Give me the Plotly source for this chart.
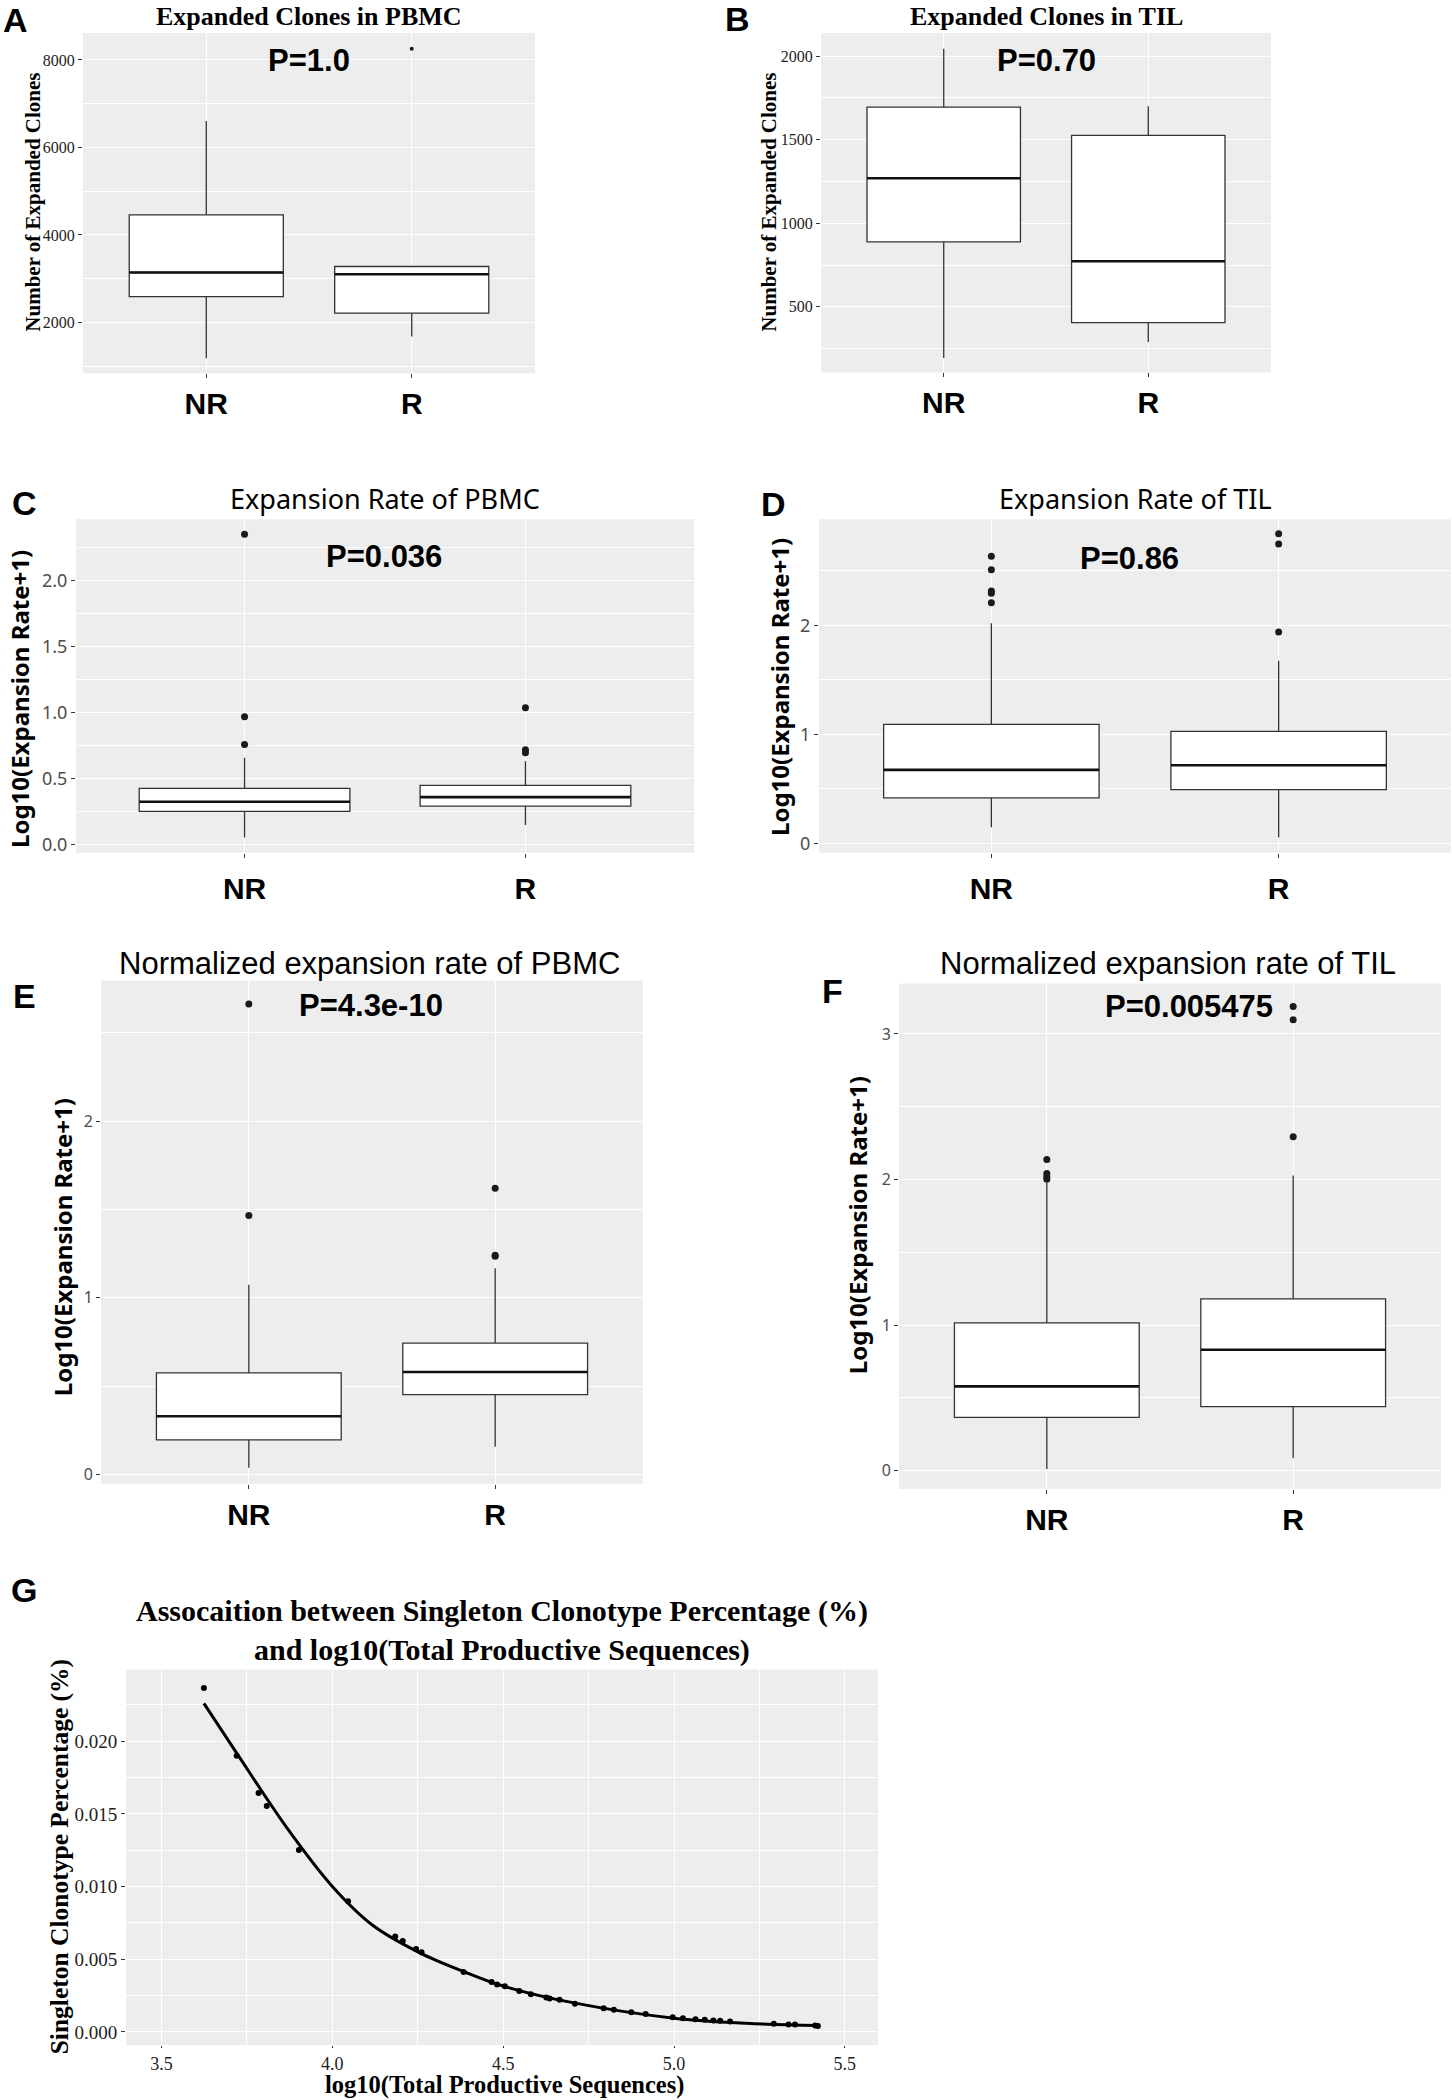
import plotly.graph_objects as go

W, H = 1452, 2100

CATS = ["NR", "R"]

# Panel A: Expanded Clones in PBMC
A_Q1 = [2593, 2214]
A_MED = [3142, 3103]
A_Q3 = [4461, 3279]
A_LO = [1184, 1679]
A_HI = [6602, 3279]
A_OUT_X = ["R"]
A_OUT_Y = [8255]

# Panel B: Expanded Clones in TIL
B_Q1 = [888, 405]
B_MED = [1269, 773]
B_Q3 = [1695, 1526]
B_LO = [194, 289]
B_HI = [2044, 1701]
B_OUT_X = []
B_OUT_Y = []

# Panel C: Expansion Rate of PBMC
C_Q1 = [0.252, 0.292]
C_MED = [0.325, 0.360]
C_Q3 = [0.426, 0.448]
C_LO = [0.055, 0.149]
C_HI = [0.657, 0.632]
C_OUT_X = ["NR", "NR", "NR", "R", "R", "R"]
C_OUT_Y = [0.758, 0.967, 2.348, 0.695, 0.718, 1.035]

# Panel D: Expansion Rate of TIL
D_Q1 = [0.418, 0.495]
D_MED = [0.675, 0.718]
D_Q3 = [1.093, 1.029]
D_LO = [0.150, 0.055]
D_HI = [2.021, 1.676]
D_OUT_X = ["NR", "NR", "NR", "NR", "NR", "R", "R", "R"]
D_OUT_Y = [2.208, 2.296, 2.315, 2.510, 2.635, 1.939, 2.748, 2.840]

# Panel E: Normalized expansion rate of PBMC
E_Q1 = [0.195, 0.451]
E_MED = [0.329, 0.579]
E_Q3 = [0.574, 0.743]
E_LO = [0.037, 0.156]
E_HI = [1.073, 1.166]
E_OUT_X = ["NR", "NR", "R", "R", "R"]
E_OUT_Y = [1.465, 2.663, 1.235, 1.240, 1.619]

# Panel F: Normalized expansion rate of TIL
F_Q1 = [0.365, 0.439]
F_MED = [0.578, 0.830]
F_Q3 = [1.014, 1.179]
F_LO = [0.010, 0.084]
F_HI = [1.975, 2.028]
F_OUT_X = ["NR", "NR", "NR", "NR", "R", "R", "R"]
F_OUT_Y = [2.002, 2.020, 2.041, 2.138, 2.293, 3.097, 3.189]

# Panel G: singleton percentage vs log10(total productive sequences)
G_X = [3.624, 3.720, 3.784, 3.808, 3.902, 4.046, 4.184, 4.206, 4.245, 4.261,
       4.384, 4.466, 4.482, 4.505, 4.547, 4.581, 4.626, 4.636, 4.665, 4.710,
       4.794, 4.824, 4.875, 4.917, 4.996, 5.026, 5.063, 5.090, 5.115, 5.135,
       5.164, 5.292, 5.335, 5.354, 5.413, 5.421]
G_Y = [0.02366, 0.01900, 0.01644, 0.01554, 0.01252, 0.00899, 0.00657, 0.00625, 0.00571, 0.00548,
       0.00413, 0.00344, 0.00327, 0.00314, 0.00281, 0.00260, 0.00237, 0.00230, 0.00221, 0.00195,
       0.00163, 0.00153, 0.00135, 0.00123, 0.00102, 0.00095, 0.00088, 0.00084, 0.00079, 0.00077,
       0.00072, 0.00056, 0.00051, 0.00051, 0.00044, 0.00042]
CURVE_X = [3.624, 3.720, 3.866, 4.000, 4.118, 4.253, 4.384, 4.500, 4.707, 5.000, 5.211, 5.421]
CURVE_Y = [0.0226, 0.01918, 0.01407, 0.01001, 0.00734, 0.00548, 0.00416, 0.00316, 0.00200, 0.00095, 0.00060, 0.00045]

SERIF = "Liberation Serif, Times New Roman, serif"
SANS = "Liberation Sans, Arial, sans-serif"
NOTO = "Noto Sans, Open Sans, sans-serif"
BG = "#EDEDED"
LINE = "#333333"

fig = go.Figure()


def dx(a, b):
    return [a / W, b / W]


def dy(top, bottom):
    return [1 - bottom / H, 1 - top / H]


def add_box_panel(i, q1, med, q3, lo, hi, ox, oy, msize):
    xa = "x" if i == 1 else f"x{i}"
    ya = "y" if i == 1 else f"y{i}"
    fig.add_trace(go.Box(
        x=CATS, q1=q1, median=med, q3=q3, lowerfence=lo, upperfence=hi,
        width=0.75, whiskerwidth=0, boxpoints=False,
        fillcolor="white", line=dict(color=LINE, width=1.3),
        hoverinfo="skip", xaxis=xa, yaxis=ya, showlegend=False))
    # thicker median line (ggplot fatten)
    fig.add_trace(go.Box(
        x=CATS, q1=med, median=med, q3=med, lowerfence=med, upperfence=med,
        width=0.75, whiskerwidth=0, boxpoints=False,
        fillcolor="rgba(0,0,0,0)", line=dict(color="#111111", width=2.6),
        hoverinfo="skip", xaxis=xa, yaxis=ya, showlegend=False))
    if len(oy):
        fig.add_trace(go.Scatter(
            x=ox, y=oy, mode="markers",
            marker=dict(color="#1a1a1a", size=msize),
            hoverinfo="skip", xaxis=xa, yaxis=ya, showlegend=False))


add_box_panel(1, A_Q1, A_MED, A_Q3, A_LO, A_HI, A_OUT_X, A_OUT_Y, 4)
add_box_panel(2, B_Q1, B_MED, B_Q3, B_LO, B_HI, B_OUT_X, B_OUT_Y, 6)
add_box_panel(3, C_Q1, C_MED, C_Q3, C_LO, C_HI, C_OUT_X, C_OUT_Y, 7)
add_box_panel(4, D_Q1, D_MED, D_Q3, D_LO, D_HI, D_OUT_X, D_OUT_Y, 7)
add_box_panel(5, E_Q1, E_MED, E_Q3, E_LO, E_HI, E_OUT_X, E_OUT_Y, 7)
add_box_panel(6, F_Q1, F_MED, F_Q3, F_LO, F_HI, F_OUT_X, F_OUT_Y, 7)

fig.add_trace(go.Scatter(x=CURVE_X, y=CURVE_Y, mode="lines", line=dict(color="black", width=3, shape="spline"),
                         hoverinfo="skip", xaxis="x7", yaxis="y7", showlegend=False))
fig.add_trace(go.Scatter(x=G_X, y=G_Y, mode="markers", marker=dict(color="black", size=6),
                         hoverinfo="skip", xaxis="x7", yaxis="y7", showlegend=False))


def cat_x(dom, anchor, standoff):
    return dict(domain=dom, anchor=anchor, type="category", categoryorder="array", categoryarray=CATS,
                range=[-0.6, 1.6], showgrid=True, gridcolor="white", gridwidth=1.4, zeroline=False,
                showline=False, ticks="outside", ticklen=4, tickwidth=1, tickcolor=LINE,
                tickfont=dict(family=SANS, size=30, color="black", weight="bold"),
                ticklabelstandoff=standoff, fixedrange=True)


def num_y(dom, anchor, rng, dtick, minor, fmt, font):
    return dict(domain=dom, anchor=anchor, range=rng, tick0=0, dtick=dtick, tickformat=fmt,
                showgrid=True, gridcolor="white", gridwidth=1.4, zeroline=False, showline=False,
                ticks="outside", ticklen=4, tickwidth=1, tickcolor=LINE, tickfont=font,
                minor=dict(tick0=0, dtick=minor, showgrid=True, gridcolor="white", gridwidth=0.7),
                fixedrange=True)


serif_tick = dict(family=SERIF, size=16, color="#222222")
serif_tick_g = dict(family=SERIF, size=19, color="#222222")
serif_tick_gx = dict(family=SERIF, size=18, color="#222222")
noto_tick = dict(family=NOTO, size=18, color="#4d4d4d")
noto_tick_s = dict(family=NOTO, size=16, color="#4d4d4d")

layout = dict(
    width=W, height=H, margin=dict(l=0, r=0, t=0, b=0),
    paper_bgcolor="white", plot_bgcolor=BG, showlegend=False, boxmode="overlay",
    xaxis=cat_x(dx(83, 535), "y", 0),
    yaxis=num_y(dy(33, 374), "x", [835, 8617], 2000, 1000, "d", serif_tick),
    xaxis2=cat_x(dx(821, 1271), "y2", 0),
    yaxis2=num_y(dy(33, 373), "x2", [107, 2139], 500, 250, "d", serif_tick),
    xaxis3=cat_x(dx(76, 694), "y3", 5),
    yaxis3=num_y(dy(520, 854), "x3", [-0.061, 2.461], 0.5, 0.25, ".1f", noto_tick),
    xaxis4=cat_x(dx(819, 1451), "y4", 5),
    yaxis4=num_y(dy(520, 854), "x4", [-0.085, 2.974], 1, 0.5, "d", noto_tick),
    xaxis5=cat_x(dx(101, 643), "y5", 0),
    yaxis5=num_y(dy(982, 1486), "x5", [-0.054, 2.795], 1, 0.5, "d", noto_tick_s),
    xaxis6=cat_x(dx(899, 1441), "y6", 0),
    yaxis6=num_y(dy(985, 1491), "x6", [-0.126, 3.346], 1, 0.5, "d", noto_tick_s),
    xaxis7=dict(domain=dx(126, 878), anchor="y7", range=[3.396, 5.597], tick0=0, dtick=0.5, tickformat=".1f",
                showgrid=True, gridcolor="white", gridwidth=1.4, zeroline=False, showline=False,
                ticks="outside", ticklen=2, tickwidth=1, tickcolor=LINE, tickfont=serif_tick_gx,
                minor=dict(tick0=0, dtick=0.25, showgrid=True, gridcolor="white", gridwidth=0.7),
                ticklabelstandoff=0, fixedrange=True),
    yaxis7=num_y(dy(1672, 2048), "x7", [-0.0009, 0.02492], 0.005, 0.0025, ".3f", serif_tick_g),
)
fig.update_layout(**layout)

ann = []


def A(text, x, y, family, size, bold=False, angle=0, color="black"):
    ann.append(dict(text=text, x=x / W, y=1 - y / H, xref="paper", yref="paper", showarrow=False,
                    xanchor="center", yanchor="middle", textangle=angle,
                    font=dict(family=family, size=size, color=color, weight="bold" if bold else "normal")))


# panel letters
A("A", 15, 20, SANS, 34, True)
A("B", 737, 19, SANS, 34, True)
A("C", 24, 504, SANS, 34, True)
A("D", 773, 505, SANS, 34, True)
A("E", 24, 997, SANS, 34, True)
A("F", 832, 992, SANS, 34, True)
A("G", 24, 1592, SANS, 34, True)

# titles
A("Expanded Clones in PBMC", 309, 17, SERIF, 26, True)
A("Expanded Clones in TIL", 1046, 17, SERIF, 26, True)
A("Expansion Rate of PBMC", 385, 499, NOTO, 27)
A("Expansion Rate of TIL", 1135, 499, NOTO, 27)
A("Normalized expansion rate of PBMC", 369, 965, SANS, 31)
A("Normalized expansion rate of TIL", 1168, 965, SANS, 31)
A("Assocaition between Singleton Clonotype Percentage (%)<br>and log10(Total Productive Sequences)",
  502, 1633, SERIF, 30, True)

# p-values
A("P=1.0", 309, 61, SANS, 31, True)
A("P=0.70", 1046, 61, SANS, 31, True)
A("P=0.036", 384, 557, SANS, 31, True)
A("P=0.86", 1129, 559, SANS, 31, True)
A("P=4.3e-10", 371, 1007, SANS, 31, True)
A("P=0.005475", 1189, 1008, SANS, 31, True)

# axis titles
A("Number of Expanded Clones", 33, 203, SERIF, 21, True, -90)
A("Number of Expanded Clones", 769, 203, SERIF, 21, True, -90)
A("Log10(Expansion Rate+1)", 20, 700, NOTO, 24, True, -90)
A("Log10(Expansion Rate+1)", 779, 688, NOTO, 24, True, -90)
A("Log10(Expansion Rate+1)", 62, 1249, NOTO, 24, True, -90)
A("Log10(Expansion Rate+1)", 857, 1227, NOTO, 24, True, -90)
A("Singleton Clonotype Percentage (%)", 59, 1860, SERIF, 25.5, True, -90)
A("log10(Total Productive Sequences)", 504, 2088, SERIF, 24.5, True)

fig.update_layout(annotations=ann)
fig.write_html(
    "out.html",
    config={"displayModeBar": False},
    post_script="document.body.style.margin='0';document.body.style.padding='0';"
                "document.body.style.overflow='hidden';",
)
